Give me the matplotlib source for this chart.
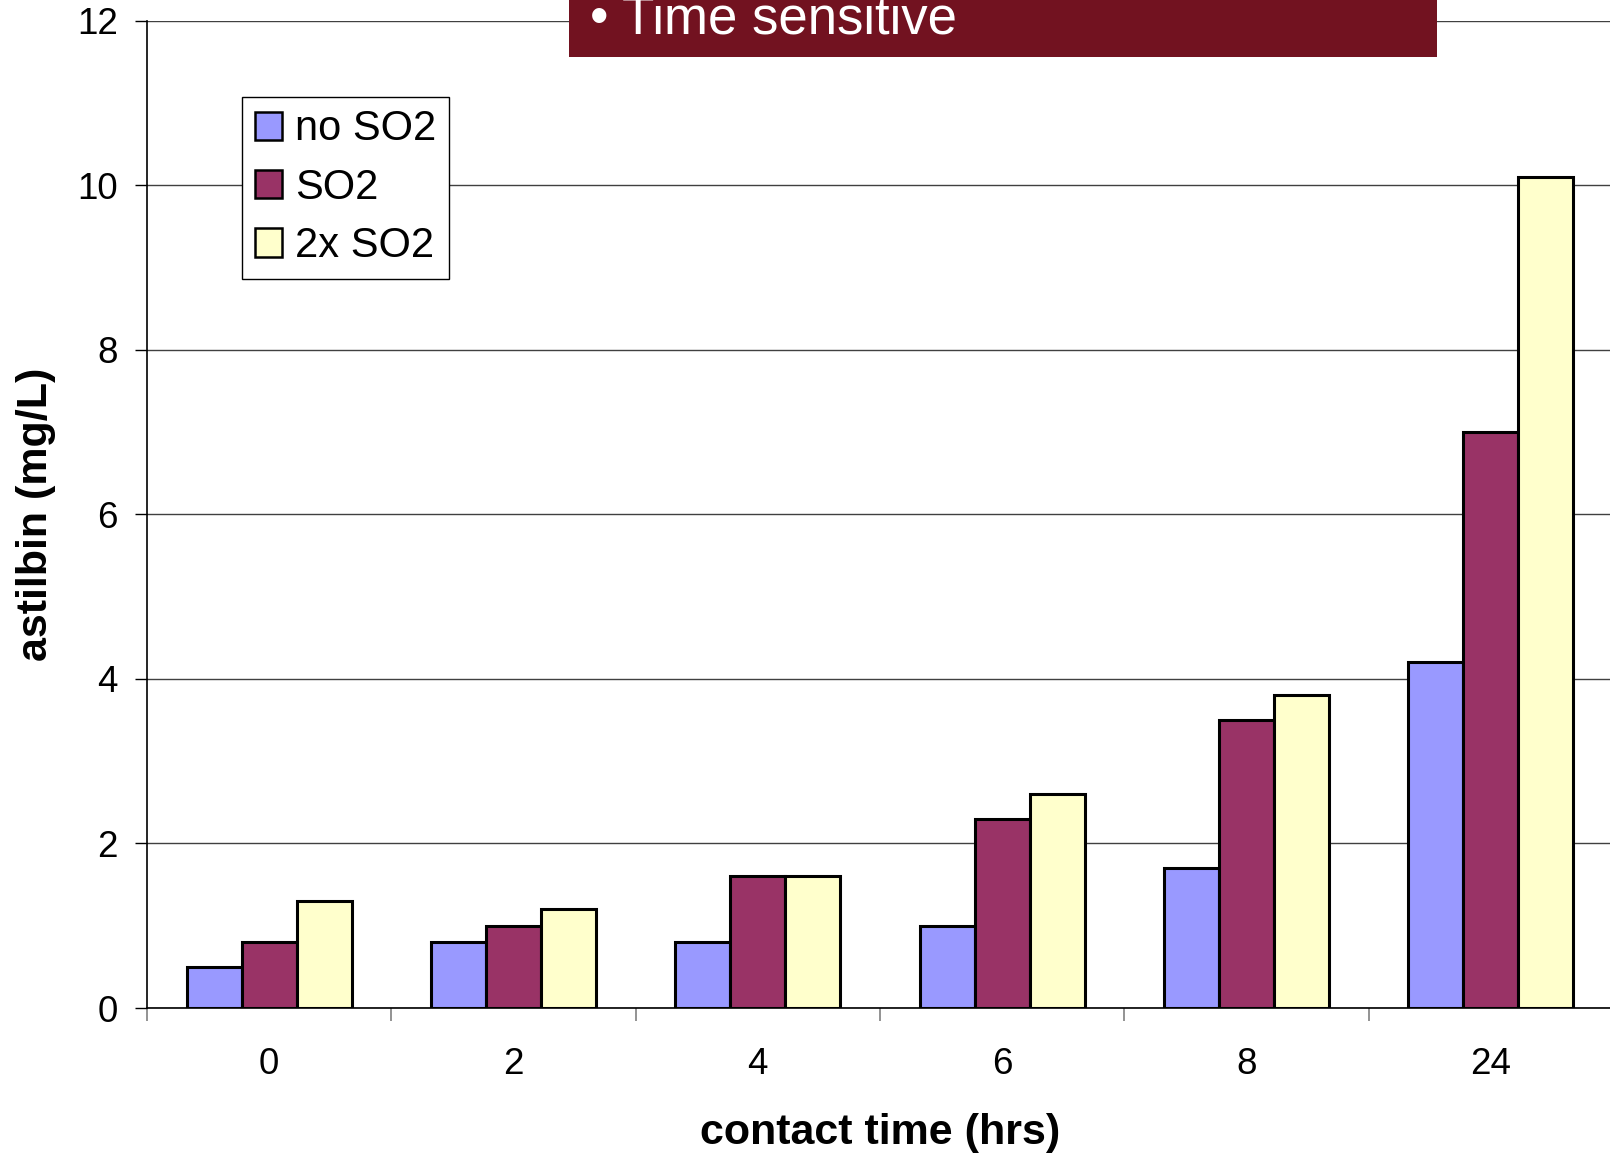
import numpy as np
import matplotlib.pyplot as plt
from matplotlib.patches import Rectangle

plt.rcParams['font.family'] = ['Liberation Sans', 'DejaVu Sans']

# contact time categories and astilbin values (mg/L)
hours = ['0', '2', '4', '6', '8', '24']
no_so2 = [0.5, 0.8, 0.8, 1.0, 1.7, 4.2]
so2 = [0.8, 1.0, 1.6, 2.3, 3.5, 7.0]
so2_double = [1.3, 1.2, 1.6, 2.6, 3.8, 10.1]

series = [('no SO2', no_so2, '#9999FF'),
          ('SO2', so2, '#993366'),
          ('2x SO2', so2_double, '#FFFFCC')]

fig = plt.figure(figsize=(16.1, 11.57), dpi=100)
ax = fig.add_axes([147/1610, 1 - 1008/1157, 1466/1610, (1008 - 20.5)/1157])

x = np.arange(len(hours))
w = 0.225
for i, (name, vals, col) in enumerate(series):
    ax.bar(x + (i - 1) * w, vals, w, color=col, edgecolor='black', linewidth=2.2, label=name, zorder=3)

ax.set_xlim(-0.5, len(hours) - 0.5)
ax.set_ylim(0, 12)
ax.set_yticks(np.arange(0, 13, 2))
ax.yaxis.grid(True, color='#404040', linewidth=1)
ax.set_axisbelow(True)

ax.set_xticks(x)
ax.set_xticklabels(hours)
ax.set_xticks(np.arange(-0.5, len(hours)), minor=True)
ax.tick_params(axis='x', which='major', length=0, pad=28, labelsize=26.5)
ax.tick_params(axis='x', which='minor', length=9, width=1.2, color='#808080', direction='out')
ax.tick_params(axis='y', length=9, width=1, pad=12, labelsize=26.5)

for s in ['top', 'right']:
    ax.spines[s].set_visible(False)
ax.spines['left'].set_linewidth(1.2)
ax.spines['bottom'].set_linewidth(1.2)

fig.text(36/1610, 1 - 514/1157, 'astilbin (mg/L)', rotation=90, fontsize=31, fontweight='bold',
         ha='center', va='center')
fig.text(880/1610, 1 - 1133/1157, 'contact time (hrs)', fontsize=31, fontweight='bold',
         ha='center', va='center')

leg = ax.legend(loc='upper left', bbox_to_anchor=(242/1610, 1 - 97/1157), bbox_transform=fig.transFigure,
                fontsize=30, frameon=True, fancybox=False, framealpha=1, edgecolor='black',
                handlelength=0.67, handleheight=0.67, handletextpad=0.3, labelspacing=0.44,
                borderpad=0.3, borderaxespad=0)
leg.get_frame().set_linewidth(1)
for h in leg.legend_handles:
    h.set_linewidth(1.8)

# title banner from the slide
fig.patches.append(Rectangle((569/1610, 1 - 56.5/1157), 868/1610, 56.5/1157, transform=fig.transFigure,
                             facecolor='#721220', edgecolor='none', zorder=5))
fig.text(590/1610, 1 - 34/1157, '\u2022 Time sensitive', color='white', fontsize=38,
         ha='left', va='baseline', zorder=6)

fig.savefig('out.png', dpi=100)
